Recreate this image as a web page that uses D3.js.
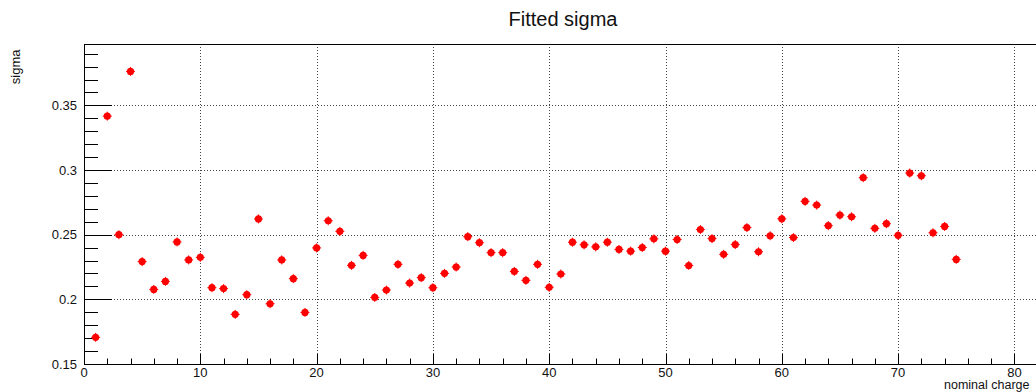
<!DOCTYPE html>
<html>
<head>
<meta charset="utf-8">
<script src="https://cdn.jsdelivr.net/npm/d3@7"></script>
<style>
  body { margin: 0; background: #fff; }
  svg { display: block; font-family: "Liberation Sans", Arial, sans-serif; }
</style>
</head>
<body>
<svg class="svgChart"></svg>
<script>
// nominal charge (x) and fitted sigma (y)
const charge = d3.range(1, 76);
const sigma = [
  0.1706, 0.3417, 0.2500, 0.3763, 0.2292, 0.2077, 0.2139, 0.2444, 0.2305, 0.2325,
  0.2090, 0.2083, 0.1884, 0.2036, 0.2622, 0.1966, 0.2305, 0.2160, 0.1899, 0.2398,
  0.2608, 0.2526, 0.2263, 0.2340, 0.2015, 0.2072, 0.2271, 0.2126, 0.2168, 0.2090,
  0.2201, 0.2250, 0.2485, 0.2438, 0.2361, 0.2361, 0.2216, 0.2147, 0.2271, 0.2093,
  0.2196, 0.2442, 0.2422, 0.2406, 0.2442, 0.2386, 0.2373, 0.2401, 0.2468, 0.2373,
  0.2463, 0.2262, 0.2540, 0.2470, 0.2348, 0.2424, 0.2555, 0.2368, 0.2492, 0.2623,
  0.2478, 0.2758, 0.2729, 0.2570, 0.2652, 0.2639, 0.2941, 0.2549, 0.2585, 0.2495,
  0.2977, 0.2956, 0.2515, 0.2564, 0.2309
];
const xTicks = [0, 10, 20, 30, 40, 50, 60, 70, 80];
const yTicks = [0.15, 0.2, 0.25, 0.3, 0.35];
const yTickLabels = ['0.15', '0.2', '0.25', '0.3', '0.35'];

const width = 1036;
const height = 392;
const frame = {left: 84, top: 44, bottom: 364};

const svg = d3.select('.svgChart')
  .attr('width', width)
  .attr('height', height);

const xScale = d3.scaleLinear()
  .domain([0, 85])
  .range([frame.left, frame.left + 85 * 11.63]);

const yScale = d3.scaleLinear()
  .domain([0.15, 0.3975])
  .range([frame.bottom, frame.top]);

const xMax = xScale.range()[1];

// grid (dotted) at major ticks
svg.append('g')
  .selectAll('line')
  .data(xTicks.filter(d => d > 0))
  .enter()
  .append('line')
    .attr('x1', d => Math.round(xScale(d)) + 0.5)
    .attr('x2', d => Math.round(xScale(d)) + 0.5)
    .attr('y1', frame.top)
    .attr('y2', frame.bottom)
    .attr('stroke', '#444')
    .attr('stroke-dasharray', '1,2');

svg.append('g')
  .selectAll('line')
  .data(yTicks.filter(d => d > 0.15))
  .enter()
  .append('line')
    .attr('x1', frame.left)
    .attr('x2', xMax)
    .attr('y1', d => Math.round(yScale(d)) + 0.5)
    .attr('y2', d => Math.round(yScale(d)) + 0.5)
    .attr('stroke', '#444')
    .attr('stroke-dasharray', '1,2');

// frame
svg.append('rect')
  .attr('x', frame.left + 0.5)
  .attr('y', frame.top + 0.5)
  .attr('width', xMax - frame.left)
  .attr('height', frame.bottom - frame.top)
  .attr('fill', 'none')
  .attr('stroke', '#000')
  .attr('stroke-width', 1);

// y axis: ticks drawn inward
const yMinor = d3.range(15, 40).map(d => d / 100);
svg.append('g')
  .selectAll('line')
  .data(yMinor)
  .enter()
  .append('line')
    .attr('x1', frame.left)
    .attr('x2', d => frame.left + (Math.abs(d * 20 - Math.round(d * 20)) < 1e-6 ? 28 : 14))
    .attr('y1', d => Math.round(yScale(d)) + 0.5)
    .attr('y2', d => Math.round(yScale(d)) + 0.5)
    .attr('stroke', '#000');

svg.append('g')
  .selectAll('text')
  .data(yTicks)
  .enter()
  .append('text')
    .attr('x', 77)
    .attr('y', d => yScale(d))
    .attr('dy', '0.36em')
    .attr('text-anchor', 'end')
    .attr('font-size', 13)
    .attr('fill', '#111')
    .text((d, i) => yTickLabels[i]);

// x axis: ticks drawn upward
const xMinor = d3.range(0, 86, 2);
svg.append('g')
  .selectAll('line')
  .data(xMinor)
  .enter()
  .append('line')
    .attr('x1', d => Math.round(xScale(d)) + 0.5)
    .attr('x2', d => Math.round(xScale(d)) + 0.5)
    .attr('y1', frame.bottom)
    .attr('y2', d => frame.bottom - (d % 10 === 0 ? 10 : 5.5))
    .attr('stroke', '#000');

svg.append('g')
  .selectAll('text')
  .data(xTicks)
  .enter()
  .append('text')
    .attr('x', d => xScale(d))
    .attr('y', 377)
    .attr('text-anchor', 'middle')
    .attr('font-size', 13)
    .attr('fill', '#111')
    .text(d => d);

// titles
svg.append('text')
  .attr('x', 563)
  .attr('y', 25.5)
  .attr('text-anchor', 'middle')
  .attr('font-size', 20)
  .attr('fill', '#111')
  .text('Fitted sigma');

svg.append('text')
  .attr('transform', 'translate(20, 49.5) rotate(-90)')
  .attr('text-anchor', 'end')
  .attr('font-size', 13)
  .attr('fill', '#111')
  .text('sigma');

svg.append('text')
  .attr('x', 944)
  .attr('y', 388.5)
  .attr('font-size', 12.5)
  .attr('fill', '#111')
  .text('nominal charge');

// points with small error-bar cross
const pts = charge.map((c, i) => ({x: c, y: sigma[i]}));

const mark = svg.append('g')
  .selectAll('g')
  .data(pts)
  .enter()
  .append('g')
    .attr('transform', d => `translate(${xScale(d.x)},${yScale(d.y)})`);

mark.append('line')
  .attr('x1', -4.5).attr('x2', 4.5)
  .attr('stroke', '#f00');
mark.append('line')
  .attr('y1', -4.5).attr('y2', 4.5)
  .attr('stroke', '#f00');
mark.append('circle')
  .attr('r', 3.6)
  .attr('fill', '#f00');
</script>
</body>
</html>
